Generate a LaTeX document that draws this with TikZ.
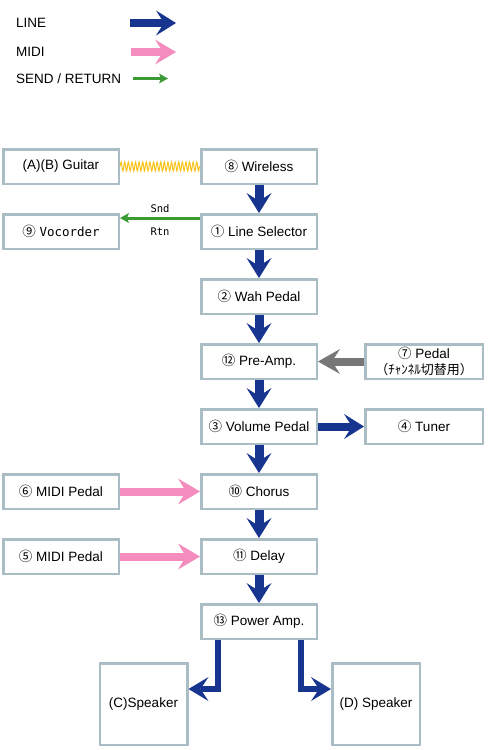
\documentclass[tikz,border=0pt]{standalone}
\usepackage{fontspec}
\setmainfont{Liberation Sans}
\newfontfamily\cjk{Noto Sans CJK JP}
\newfontfamily\monofont{DejaVu Sans Mono}
\usetikzlibrary{arrows.meta,positioning,decorations.pathmorphing}

\definecolor{boxgray}{HTML}{ABBDC4}
\definecolor{lineblue}{HTML}{17348F}
\definecolor{midipink}{HTML}{F48CBE}
\definecolor{sendgreen}{HTML}{3A9B35}
\definecolor{pedalgray}{HTML}{777777}
\definecolor{cordyellow}{HTML}{F7C41F}

\begin{document}
\begin{tikzpicture}[
    x = 1pt, y = -1pt, % pixel units, y runs down
    font = \fontsize{13.5}{16}\selectfont,
    node distance = 28pt and 80pt, % distance between boxes
    box/.style = {draw = boxgray, line width = 2.5pt, fill = white,
        minimum width = 115.5pt, minimum height = 34.5pt, inner sep = 2pt},
    spkbox/.style = {box, minimum width = 87.5pt, minimum height = 81.5pt},
    legend/.style = {anchor = west, inner sep = 0pt},
    linearr/.style = {draw = lineblue, line width = 9pt,
        -{Stealth[length = 20pt, width = 25pt, inset = 8pt, line width = 0pt]}},
    midiarr/.style = {draw = midipink, line width = 8pt,
        -{Stealth[length = 22pt, width = 26pt, inset = 8pt, line width = 0pt]}},
    pedalarr/.style = {draw = pedalgray, line width = 8pt,
        -{Stealth[length = 22pt, width = 25pt, inset = 8pt, line width = 0pt]}},
    spkarr/.style = {draw = lineblue, line width = 6.5pt,
        -{Stealth[length = 20pt, width = 24pt, inset = 8pt, line width = 0pt]}},
    sendarr/.style = {draw = sendgreen, line width = 3pt,
        -{Stealth[length = 9pt, width = 10pt, inset = 2pt, line width = 0pt]}},
    cord/.style = {draw = cordyellow, line width = 1pt, decorate,
        decoration = {snake, segment length = 3.6pt, amplitude = 4.5pt}},
    srlabel/.style = {font = \monofont\fontsize{10.5}{12}\selectfont}
    ]

    \useasboundingbox (0,0) rectangle (492,750);

    % legend
    \node[legend] (lgline) at (16,23) {LINE};
    \node[legend] (lgmidi) at (16,52) {MIDI};
    \node[legend] (lgsend) at (16,79) {SEND / RETURN};
    \coordinate (lglineS) at (130,23);
    \coordinate (lglineE) at (176,23);
    \coordinate (lgmidiS) at (131,52);
    \coordinate (lgmidiE) at (176,52);
    \coordinate (lgsendS) at (133,78.5);
    \coordinate (lgsendE) at (168,78.5);
    \draw[linearr, line width = 8pt] (lglineS) -- (lglineE);
    \draw[midiarr, -{Stealth[length = 21pt, width = 25pt, inset = 8pt, line width = 0pt]}] (lgmidiS) -- (lgmidiE);
    \draw[sendarr] (lgsendS) -- (lgsendE);

    % signal chain
    \node[box] (wl) at (259,166.5) {{\cjk ⑧}~Wireless};
    \node[box] (gt) [left = of wl] {(A)(B) Guitar};
    \node[box] (ls) [below = of wl] {{\cjk ①}~Line Selector};
    \node[box] (vc) [left = of ls] {{\cjk ⑨}~{\monofont\fontsize{12.5}{14}\selectfont Vocorder}};
    \node[box] (wah) [below = of ls] {{\cjk ②}~Wah Pedal};
    \node[box] (pre) [below = of wah] {{\cjk ⑫}~Pre-Amp.};
    \node[box, minimum width = 117.5pt, align = center, inner sep = 1pt] (ped) [right = 46pt of pre]
        {{\cjk ⑦}~Pedal\\{\cjk\fontsize{13}{14}\selectfont （ﾁｬﾝﾈﾙ切替用）}};
    \node[box] (vol) [below = of pre] {{\cjk ③}~Volume Pedal};
    \node[box, minimum width = 117.5pt] (tun) [right = 46pt of vol] {{\cjk ④}~Tuner};
    \node[box] (cho) [below = of vol] {{\cjk ⑩}~Chorus};
    \node[box] (mp6) [left = of cho] {{\cjk ⑥}~MIDI Pedal};
    \node[box] (del) [below = of cho] {{\cjk ⑪}~Delay};
    \node[box] (mp5) [left = of del] {{\cjk ⑤}~MIDI Pedal};
    \node[box] (pa) [below = of del] {{\cjk ⑬}~Power Amp.};
    \node[spkbox] (spc) [below left = 22pt and 11.5pt of pa] {(C)Speaker};
    \node[spkbox] (spd) [below right = 22pt and 13pt of pa] {(D) Speaker};

    % connections
    \draw[cord] (gt) -- (wl);
    \draw[linearr] (wl) -- (ls);
    \draw[sendarr] ([yshift = 13.5pt]ls.west) -- ([yshift = 13.5pt]vc.east)
        node[midway, above = 1pt, srlabel] {Snd}
        node[midway, below = 5pt, srlabel] {Rtn};
    \draw[linearr] (ls) -- (wah);
    \draw[linearr] (wah) -- (pre);
    \draw[pedalarr] (ped) -- (pre);
    \draw[linearr] (pre) -- (vol);
    \draw[linearr, line width = 8pt] (vol) -- (tun);
    \draw[linearr] (vol) -- (cho);
    \draw[midiarr] (mp6) -- (cho);
    \draw[linearr] (cho) -- (del);
    \draw[midiarr] (mp5) -- (del);
    \draw[linearr] (del) -- (pa);
    \draw[spkarr] ([xshift = 18pt]pa.south west) |- ([yshift = 15pt]spc.east);
    \draw[spkarr] ([xshift = -17pt]pa.south east) |- ([yshift = 15pt]spd.west);
\end{tikzpicture}
\end{document}
